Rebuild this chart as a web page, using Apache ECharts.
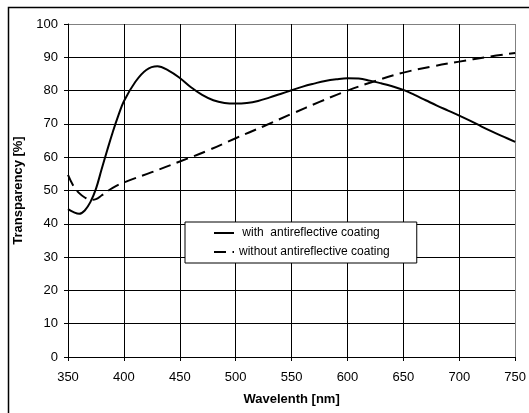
<!DOCTYPE html>
<html>
<head>
<meta charset="utf-8">
<script src="https://cdn.jsdelivr.net/npm/echarts@6/dist/echarts.min.js"></script>
<style>
html,body{margin:0;padding:0;background:#fff;}
#chart{width:529px;height:413px;}
</style>
</head>
<body>
<div id="chart"></div>
<script>
// Wavelength ticks and data
const xTicks = [350, 400, 450, 500, 550, 600, 650, 700, 750];
const yTicks = [0, 10, 20, 30, 40, 50, 60, 70, 80, 90, 100];

const withName = ' with  antireflective coating';
const withoutName = 'without antireflective coating';

const withX = [350, 355, 360, 365, 370, 375, 380, 385, 390, 395, 400, 410, 420, 430, 440, 450, 460, 470, 480, 490, 500, 510, 520, 530, 540, 550, 560, 570, 580, 590, 600, 610, 620, 630, 640, 650, 660, 670, 680, 690, 700, 710, 720, 730, 740, 750];
const withY = [44.4, 43.5, 43.0, 44.0, 46.5, 50.5, 56.3, 62.0, 67.5, 72.5, 76.8, 82.5, 86.2, 87.3, 86.0, 83.8, 81.0, 78.7, 77.1, 76.3, 76.1, 76.3, 76.9, 77.9, 79.0, 80.1, 81.2, 82.1, 82.9, 83.4, 83.7, 83.6, 83.0, 82.2, 81.3, 80.2, 78.7, 77.1, 75.5, 74.0, 72.5, 70.9, 69.2, 67.6, 66.1, 64.6];

const withoutX = [350, 355, 360, 365, 370, 375, 380, 390, 400, 425, 450, 475, 500, 525, 550, 575, 600, 625, 650, 675, 700, 725, 750];
const withoutY = [54.7, 51.3, 49.2, 47.9, 47.2, 47.4, 48.5, 50.8, 52.4, 55.5, 58.7, 62.0, 65.7, 69.3, 73.0, 76.6, 80.0, 82.9, 85.4, 87.2, 88.7, 90.1, 91.3];

const FONT = '"Liberation Sans", Arial, sans-serif';

const chart = echarts.init(document.getElementById('chart'), null, {renderer: 'canvas'});

const xSplitColors = xTicks.map((v, i) => i === xTicks.length - 1 ? '#808080' : '#000');
const ySplitColors = yTicks.map((v, i) => i === yTicks.length - 1 ? '#808080' : '#000');

chart.setOption({
  animation: false,
  backgroundColor: '#fff',
  graphic: [{
    type: 'rect',
    left: 6, top: 5,
    shape: {width: 600, height: 600},
    style: {fill: 'none', stroke: '#000', lineWidth: 1.5},
    silent: true,
    z: -1
  }],
  grid: {left: 68, top: 24, width: 449, height: 333, containLabel: false},
  xAxis: {
    type: 'value',
    min: xTicks[0], max: xTicks[xTicks.length - 1], interval: 50,
    name: 'Wavelenth [nm]',
    nameLocation: 'middle',
    nameGap: 36,
    nameTextStyle: {fontFamily: FONT, fontSize: 13, fontWeight: 'bold', color: '#000'},
    axisLine: {show: true, lineStyle: {color: '#000', width: 1}},
    axisTick: {show: true, inside: false, length: 4, lineStyle: {color: '#000'}},
    axisLabel: {fontFamily: FONT, fontSize: 13, color: '#000', margin: 14},
    splitLine: {show: true, lineStyle: {color: xSplitColors, width: 1}}
  },
  yAxis: {
    type: 'value',
    min: yTicks[0], max: yTicks[yTicks.length - 1], interval: 10,
    name: 'Transparency [%]',
    nameLocation: 'middle',
    nameGap: 35,
    nameTextStyle: {fontFamily: FONT, fontSize: 13, fontWeight: 'bold', color: '#000'},
    axisLine: {show: true, lineStyle: {color: '#000', width: 1}},
    axisTick: {show: true, inside: false, length: 4, lineStyle: {color: '#000'}},
    axisLabel: {fontFamily: FONT, fontSize: 13, color: '#000', margin: 10},
    splitLine: {show: true, lineStyle: {color: ySplitColors, width: 1}}
  },
  legend: {
    orient: 'vertical',
    left: 185, top: 222,
    selectedMode: false,
    backgroundColor: '#fff',
    borderColor: '#000',
    borderWidth: 1,
    borderRadius: 0,
    padding: [5, 27, 5, 28],
    itemWidth: 20,
    itemHeight: 14,
    itemGap: 7,
    align: 'left',
    itemStyle: {color: 'rgba(0,0,0,0)', borderWidth: 0, opacity: 0},
    textStyle: {fontFamily: FONT, fontSize: 12, color: '#000'},
    data: [withName, withoutName]
  },
  series: [{
    name: withName,
    type: 'line',
    data: withX.map((x, i) => [x, withY[i]]),
    showSymbol: false,
    symbol: 'none',
    smooth: 0.4,
    lineStyle: {color: '#000', width: 2, type: 'solid'},
    itemStyle: {color: '#000'},
    z: 3
  }, {
    name: withoutName,
    type: 'line',
    data: withoutX.map((x, i) => [x, withoutY[i]]),
    showSymbol: false,
    symbol: 'none',
    smooth: 0.4,
    lineStyle: {color: '#000', width: 2, type: [12, 6.5]},
    itemStyle: {color: '#000'},
    z: 3
  }]
});
</script>
</body>
</html>
